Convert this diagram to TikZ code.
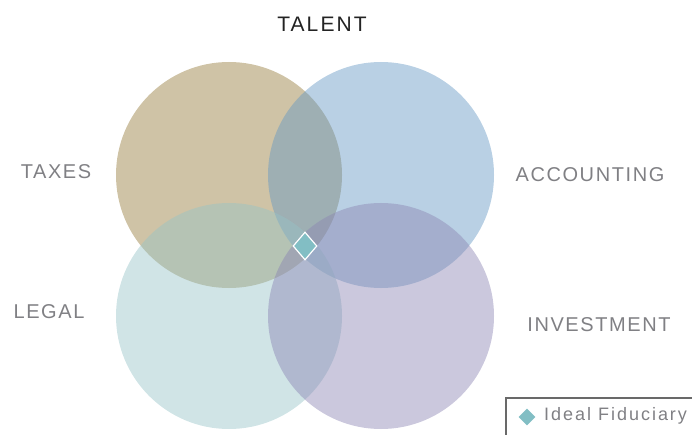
\documentclass[tikz,border=0pt]{standalone}
\usepackage{fontspec}
\setmainfont{Liberation Sans}
\newfontfamily\labelfont[LetterSpace=8]{Liberation Sans}
\newfontfamily\titlefont[LetterSpace=10]{Liberation Sans}
\newfontfamily\legendfont[LetterSpace=11]{Liberation Sans}
\usetikzlibrary{shapes.geometric}
\definecolor{ctan}{RGB}{148,122,57}
\definecolor{cblue}{RGB}{99,151,195}
\definecolor{cteal}{RGB}{150,195,199}
\definecolor{clav}{RGB}{139,133,179}
\definecolor{cdia}{RGB}{130,190,196}
\definecolor{labgray}{RGB}{128,128,132}
\definecolor{titlegray}{RGB}{35,35,35}
\definecolor{boxgray}{RGB}{105,105,105}
\tikzset{
  venn/.style={circle, minimum size=226pt, inner sep=0pt, fill opacity=0.45, draw=none},
  lab/.style={font=\labelfont\fontsize{20}{22}\selectfont, text=labgray, inner sep=0pt},
  dia/.style={diamond, fill=cdia, inner sep=0pt},
}
\begin{document}
\begin{tikzpicture}[x=1pt,y=-1pt]
\useasboundingbox (0,0) rectangle (692,435);
\clip (0,0) rectangle (692,435);
\node[venn, fill=ctan] (tax) at (229,175) {};
\node[venn, fill=cblue] (acc) at (381,175) {};
\node[venn, fill=cteal] (leg) at (229,316) {};
\node[venn, fill=clav] (inv) at (381,316) {};
\node[dia, draw=white, line width=1.2pt, minimum width=24pt, minimum height=28pt] (ideal) at (305,246) {};
\node[font=\titlefont\fontsize{21}{23}\selectfont, text=titlegray, inner sep=0pt] (talent) at (322,24) {TALENT};
\node[lab] (taxes) at (56,172) {TAXES};
\node[lab] (accounting) at (590,175) {ACCOUNTING};
\node[lab] (legal) at (49,312) {LEGAL};
\node[lab] (investment) at (599,325) {INVESTMENT};
\draw[boxgray, line width=2pt] (506,398) rectangle (720,460);
\node[dia, minimum width=17pt, minimum height=17pt] (legdia) at (527,417) {};
\node[font=\legendfont\fontsize{18}{20}\selectfont, text=labgray, anchor=west, inner sep=0pt] (legtext) at (544,416) {Ideal Fiduciary};
\end{tikzpicture}
\end{document}
